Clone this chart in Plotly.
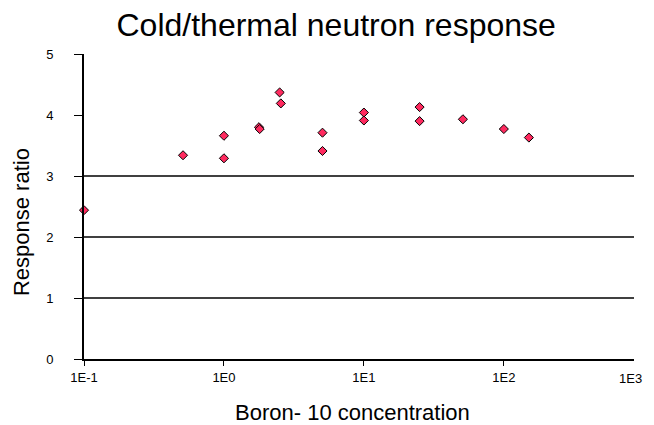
import math
import plotly.graph_objects as go

concentration = [0.1, 0.51, 1.0, 1.0, 1.78, 1.8, 2.5, 2.55, 5.06, 5.06, 10.0, 10.0, 25.0, 25.0, 51.0, 100.0, 151.0]
response = [2.44, 3.34, 3.66, 3.29, 3.80, 3.77, 4.37, 4.19, 3.71, 3.41, 4.04, 3.91, 4.13, 3.90, 3.93, 3.77, 3.63]

x_tickvals = [0.1, 1, 10, 100, 1000]
x_ticktext = ["1E-1", "1E0", "1E1", "1E2", "1E3"]
y_tickvals = [0, 1, 2, 3, 4, 5]
grid_levels = [1, 2, 3]
x_max = 10 ** 2.93

fig = go.Figure()
fig.add_trace(go.Scatter(
    x=concentration, y=response, mode="markers",
    marker=dict(symbol="diamond", size=7, color="#ff2a5f",
                line=dict(color="black", width=1)),
    showlegend=False, cliponaxis=False))

for g in grid_levels:
    fig.add_shape(type="line", xref="x", yref="y", x0=x_tickvals[0], x1=x_max, y0=g, y1=g,
                  line=dict(color="black", width=1.5), layer="below")

font_family = "Liberation Sans, Arial, sans-serif"
# last tick label sits at the cropped end of the axis
fig.add_annotation(text=x_ticktext[-1], xref="paper", yref="paper", x=1.018, y=0,
                   yshift=-19, showarrow=False, xanchor="right", yanchor="middle",
                   font=dict(size=13, family=font_family))
fig.add_annotation(text="Response ratio", xref="paper", yref="paper", x=-0.1145, y=0.449,
                   textangle=-90, showarrow=False, xanchor="center", yanchor="middle",
                   font=dict(size=22, family=font_family))
fig.add_annotation(text="Boron- 10 concentration", xref="paper", yref="paper", x=0.489, y=-0.177,
                   showarrow=False, xanchor="center", yanchor="middle",
                   font=dict(size=22, family=font_family))

fig.update_layout(
    width=646, height=417,
    paper_bgcolor="white", plot_bgcolor="white",
    font=dict(family=font_family, color="black"),
    title=dict(text="Cold/thermal neutron response", x=0.508, xanchor="center",
               y=0.959, yanchor="middle", font=dict(size=32)),
    margin=dict(l=76, r=20, t=46, b=66),
    xaxis=dict(type="log", range=[-1, math.log10(x_max)], tickvals=x_tickvals[:-1],
               ticktext=x_ticktext[:-1],
               showgrid=False, zeroline=False, showline=True, linecolor="black",
               linewidth=2, ticks="outside", ticklen=5, tickcolor="black",
               tickfont=dict(size=13), automargin=False),
    yaxis=dict(range=[0, 5], tickvals=y_tickvals, showgrid=False, zeroline=False,
               showline=True, linecolor="black", linewidth=2, ticks="outside",
               ticklen=8, tickcolor="black", tickfont=dict(size=13), automargin=False,
               ticklabelstandoff=18),
)

fig.write_html("out.html")
